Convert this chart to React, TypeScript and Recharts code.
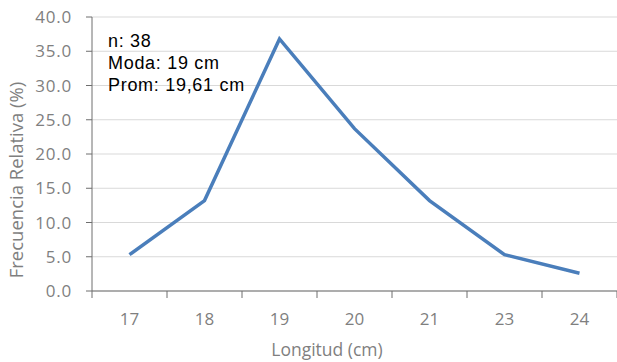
import React from 'react';
import { LineChart, Line, XAxis, YAxis, CartesianGrid } from 'recharts';

// ---- data ----
const longitudes = ['17', '18', '19', '20', '21', '23', '24'];
const frecuencias = [5.3, 13.2, 36.8, 23.7, 13.2, 5.3, 2.6];
const yTicks = [0, 5, 10, 15, 20, 25, 30, 35, 40];
const notas = ['n: 38', 'Moda: 19 cm', 'Prom: 19,61 cm'];

const chartData = longitudes.map((l, i) => ({ longitud: l, frecuencia: frecuencias[i] }));

// ---- layout ----
const W = 617;
const H = 362;
const Y_AXIS_W = 92;
const X_AXIS_H = 71;
const HALF_BAND = (W - Y_AXIS_W) / longitudes.length / 2;

const AXIS = '#6e6e6e';
const TEXT = '#7f7f7f';
const GRID = '#d9d9d9';
const LINE = '#4a7ebb';
const FONT = '"Open Sans", sans-serif';

// x tick: boundary tick marks (Excel style) plus centered label
const XTick = (props: any) => {
  const { x, y, payload, index } = props;
  const last = index === longitudes.length - 1;
  return (
    <g>
      <line x1={x - HALF_BAND} x2={x - HALF_BAND} y1={y} y2={y + 7} stroke={AXIS} strokeWidth={1} />
      {last && (
        <line x1={x + HALF_BAND} x2={x + HALF_BAND} y1={y} y2={y + 7} stroke={AXIS} strokeWidth={1} />
      )}
      <text x={x} y={y + 34} textAnchor="middle" fill={TEXT} fontFamily={FONT} fontSize={17}>
        {payload.value}
      </text>
    </g>
  );
};

const YTitle = () => {
  const cy = 180;
  return (
    <text
      x={23}
      y={cy}
      transform={`rotate(-90, 23, ${cy})`}
      textAnchor="middle"
      fill={TEXT}
      fontFamily={FONT}
      fontSize={18.5}
    >
      Frecuencia Relativa (%)
    </text>
  );
};

export default function App() {
  return (
    <div style={{ position: 'absolute', left: 0, top: 0, width: W, height: H, background: '#fff' }}>
      <LineChart width={W} height={H} data={chartData} margin={{ top: 17, right: 0, bottom: 0, left: 0 }}>
        <CartesianGrid stroke={GRID} vertical={false} />
        <XAxis
          dataKey="longitud"
          height={X_AXIS_H}
          stroke={AXIS}
          tickLine={false}
          tickSize={0}
          tickMargin={0}
          tick={<XTick />}
          interval={0}
          padding={{ left: HALF_BAND, right: HALF_BAND }}
        />
        <YAxis
          width={Y_AXIS_W}
          domain={[0, 40]}
          ticks={yTicks}
          stroke={AXIS}
          tickSize={6}
          tickMargin={14}
          tickFormatter={(v: number) => v.toFixed(1)}
          tick={{ fill: TEXT, fontFamily: FONT, fontSize: 17, letterSpacing: 0.8 }}
          label={<YTitle />}
        />
        <Line
          type="linear"
          dataKey="frecuencia"
          stroke={LINE}
          strokeWidth={3.5}
          dot={false}
          isAnimationActive={false}
        />
      </LineChart>

      {/* stats box */}
      <div
        style={{
          position: 'absolute',
          left: 108,
          top: 29.5,
          fontFamily: '"Liberation Sans", Arial, sans-serif',
          fontSize: 18,
          lineHeight: '22px',
          letterSpacing: 0.7,
          color: '#000',
        }}
      >
        {notas.map((t) => (
          <div key={t}>{t}</div>
        ))}
      </div>

      {/* x axis title */}
      <div
        style={{
          position: 'absolute',
          left: 0,
          width: 654,
          top: 337,
          textAlign: 'center',
          fontFamily: FONT,
          fontSize: 17.5,
          color: TEXT,
        }}
      >
        Longitud (cm)
      </div>
    </div>
  );
}
